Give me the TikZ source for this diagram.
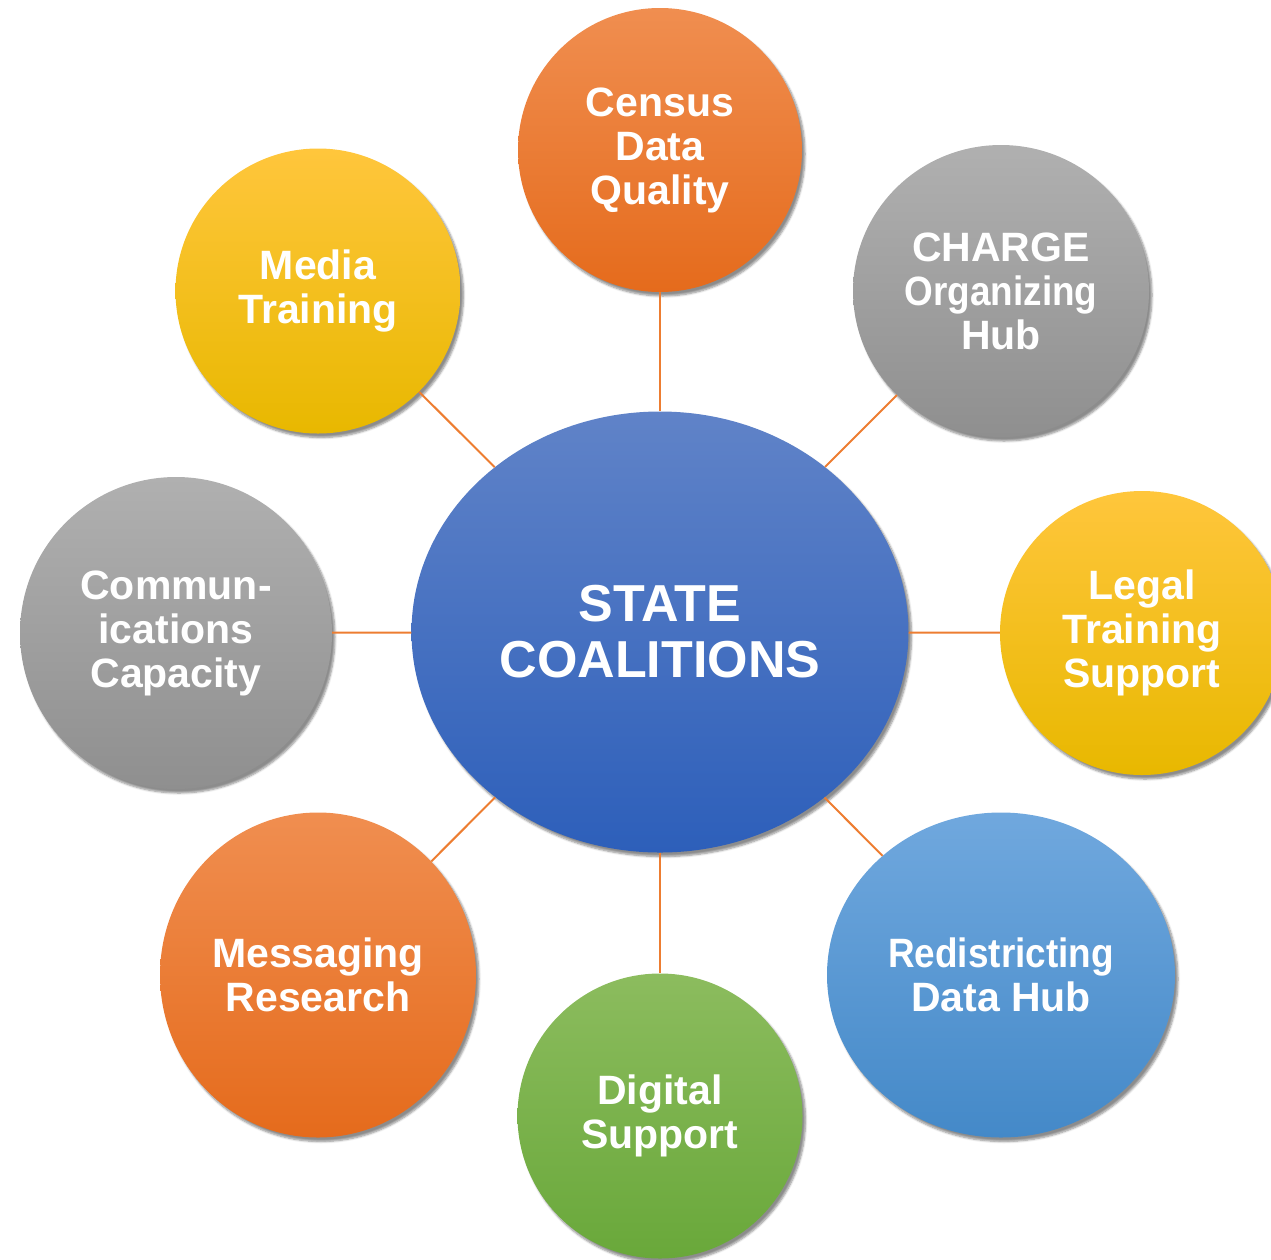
\documentclass[tikz,border=0pt]{standalone}
\usepackage{fontspec}
\setmainfont{Liberation Sans}
\usetikzlibrary{shapes.geometric,shadows.blur}
\definecolor{orT}{HTML}{F08E50}\definecolor{orB}{HTML}{E56B1C}
\definecolor{grT}{HTML}{B0B0B0}\definecolor{grB}{HTML}{8F8F8F}
\definecolor{yeT}{HTML}{FFC63C}\definecolor{yeB}{HTML}{E8B800}
\definecolor{bcT}{HTML}{6083C8}\definecolor{bcB}{HTML}{2D5FBA}
\definecolor{lbT}{HTML}{70A8DE}\definecolor{lbB}{HTML}{4489C8}
\definecolor{gnT}{HTML}{8CBC5E}\definecolor{gnB}{HTML}{69A83A}
\definecolor{linkc}{HTML}{ED7D31}
\tikzset{
  bub/.style={ellipse, inner sep=0pt, text=white, align=center,
    font=\fontsize{41}{44}\selectfont\bfseries,
    blur shadow={shadow xshift=3pt, shadow yshift=-4pt, shadow blur steps=6, shadow opacity=45}},
  orangeb/.style={bub, top color=orT, bottom color=orB},
  grayb/.style={bub, top color=grT, bottom color=grB},
  yellowb/.style={bub, top color=yeT, bottom color=yeB},
  lblueb/.style={bub, top color=lbT, bottom color=lbB},
  greenb/.style={bub, top color=gnT, bottom color=gnB},
  centerb/.style={bub, top color=bcT, bottom color=bcB, font=\fontsize{52}{56}\selectfont\bfseries},
  link/.style={draw=linkc, line width=2pt}
}
\newcommand{\narrow}[1]{\scalebox{0.9}[1]{#1}}
\begin{document}
\begin{tikzpicture}[x=1pt,y=-1pt]
\useasboundingbox (0,0) rectangle (1271,1259);
\node[centerb, minimum width=497pt, minimum height=441pt] (c) at (660,632) {STATE\\COALITIONS};
\node[orangeb, minimum width=284pt, minimum height=284pt] (census) at (660,150) {Census\\Data\\Quality};
\node[grayb, minimum width=296pt, minimum height=292pt] (charge) at (1001,291) {CHARGE\\\narrow{Organizing}\\Hub};
\node[yellowb, minimum width=284pt, minimum height=284pt] (legal) at (1142,633) {Legal\\Training\\Support};
\node[lblueb, minimum width=348pt, minimum height=325pt] (redis) at (1001,975) {\narrow{Redistricting}\\Data Hub};
\node[greenb, minimum width=285pt, minimum height=285pt] (digital) at (660,1116) {Digital\\Support};
\node[orangeb, minimum width=316pt, minimum height=325pt] (msg) at (318,975) {Messaging\\Research};
\node[grayb, minimum width=312pt, minimum height=312pt] (comm) at (176,633) {Commun-\\ications\\Capacity};
\node[yellowb, minimum width=285pt, minimum height=285pt] (media) at (318,291) {Media\\Training};
\foreach \n in {census,charge,legal,redis,digital,msg,comm,media}
  \draw[link] (c) -- (\n);
\end{tikzpicture}
\end{document}
